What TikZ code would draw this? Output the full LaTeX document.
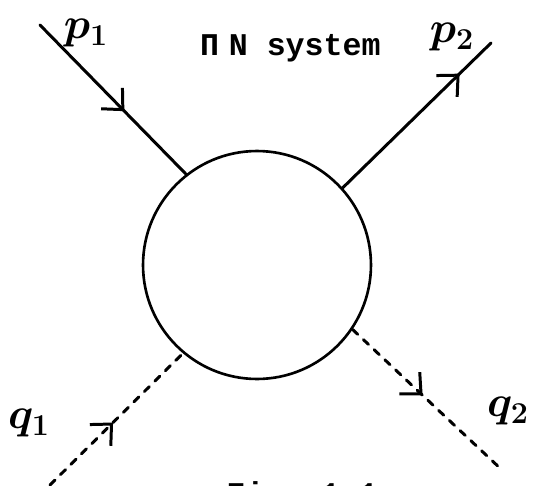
\documentclass[tikz,border=0pt]{standalone}
\usepackage{fontspec}
\setmonofont{Liberation Mono}
\usetikzlibrary{arrows.meta}
\usetikzlibrary{decorations.markings}
\tikzset{
  fdline/.style={line width=1.7pt, line cap=round},
  fdpion/.style={fdline, dash pattern=on 4pt off 4.4pt},
  fdblob/.style={
    circle, draw, line width=1.5pt, inner sep=0pt, minimum size=4.56cm},
  fdmid/.style={
    postaction={decorate},
    decoration={markings, mark=at position #1 with
      {\arrow{Straight Barb[length=9pt, width=17pt]}}}},
  fdmom/.style={font=\fontsize{24}{26}\selectfont\boldmath, inner sep=0pt},
  fdtext/.style={
    font=\fontsize{18}{20}\selectfont\ttfamily\bfseries, inner sep=0pt},
}

\begin{document}
\begin{tikzpicture}[x=0.02cm, y=0.02cm]

\path[use as bounding box, clip] (0, 0) rectangle (538, 485);

% The interaction blob.
\node[fdblob] (blob) at (257, 220) {};

% Free ends of the four legs.
\coordinate (p1in) at (40, 460);
\coordinate (p2out) at (491, 442);
\coordinate (q1in) at (50, 0);
\coordinate (q2out) at (502, 15);

% Nucleon legs.
\draw[fdline, fdmid=0.58] (p1in) -- (blob.128);
\draw[fdline, fdmid=0.79] (blob.42) -- (p2out);

% Pion legs.
\draw[fdpion, fdmid=0.475] (q1in) -- (blob.230);
\draw[fdpion, fdmid=0.47] (blob.326) -- (q2out);

% Momenta.
\node[fdmom] (p1) at (86, 452) {$p_1$};
\node[fdmom] (p2) at (452, 448) {$p_2$};
\node[fdmom] (q1) at (29, 62) {$q_1$};
\node[fdmom] (q2) at (508, 74) {$q_2$};

% Title and caption.
\node[fdtext, anchor=base east] (title) at (381, 430) {Π\kern5.5pt N system};
\node[fdtext, anchor=base west] (caption) at (226, -19) {Fig. 1.1};

\end{tikzpicture}
\end{document}
